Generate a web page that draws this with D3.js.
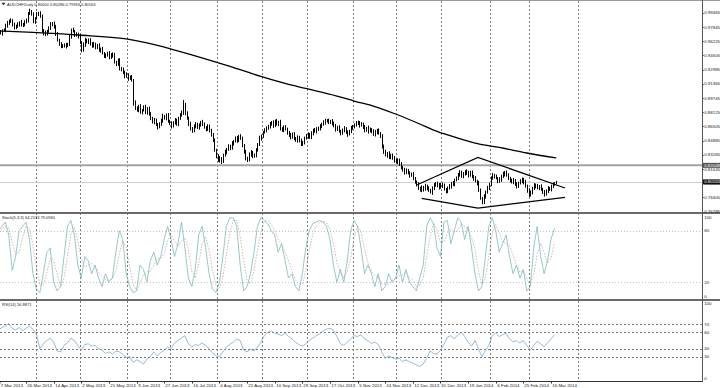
<!DOCTYPE html>
<html>
<head>
<meta charset="utf-8">
<script src="https://cdn.jsdelivr.net/npm/d3@7"></script>
<style>
  body { margin: 0; background: #fff; }
  svg text { font-family: "Liberation Sans", Arial, sans-serif; }
</style>
</head>
<body>
<script>
// AUDCHF daily, 7 Mar 2013 .. 19 Mar 2014 (MT4 style)
//##############################################

var firstOpen = 0.9738;
var closes = [
  0.9726,0.9715,0.9749,0.9749,0.9795,0.9840,0.9852,0.9863,0.9806,0.9783,0.9795,0.9818,0.9840,0.9806,0.9818,0.9840,0.9863,0.9943,0.9966,0.9932,
  0.9852,0.9886,0.9932,0.9943,0.9909,0.9749,0.9704,0.9715,0.9738,0.9772,0.9818,0.9829,0.9783,0.9715,0.9635,0.9590,0.9567,0.9578,0.9567,0.9578,
  0.9590,0.9681,0.9749,0.9738,0.9692,0.9704,0.9681,0.9612,0.9521,0.9590,0.9635,0.9612,0.9635,0.9601,0.9567,0.9590,0.9555,0.9578,0.9521,0.9532,
  0.9487,0.9453,0.9464,0.9487,0.9441,0.9475,0.9464,0.9384,0.9361,0.9407,0.9316,0.9293,0.9270,0.9224,0.9247,0.9202,0.9213,0.9179,0.8916,0.8859,
  0.8836,0.8882,0.8814,0.8836,0.8871,0.8814,0.8859,0.8791,0.8745,0.8700,0.8722,0.8677,0.8643,0.8677,0.8722,0.8768,0.8745,0.8779,0.8711,0.8688,
  0.8654,0.8700,0.8722,0.8677,0.8745,0.8779,0.8814,0.8905,0.8802,0.8745,0.8677,0.8631,0.8597,0.8654,0.8677,0.8643,0.8665,0.8700,0.8677,0.8643,
  0.8620,0.8654,0.8597,0.8563,0.8494,0.8380,0.8312,0.8266,0.8289,0.8255,0.8323,0.8357,0.8392,0.8426,0.8403,0.8460,0.8483,0.8517,0.8494,0.8540,
  0.8517,0.8437,0.8357,0.8289,0.8266,0.8334,0.8357,0.8312,0.8323,0.8380,0.8449,0.8517,0.8540,0.8585,0.8608,0.8631,0.8654,0.8677,0.8700,0.8665,
  0.8711,0.8677,0.8700,0.8631,0.8608,0.8643,0.8620,0.8585,0.8551,0.8528,0.8563,0.8517,0.8494,0.8528,0.8483,0.8449,0.8471,0.8517,0.8540,0.8563,
  0.8528,0.8574,0.8608,0.8597,0.8631,0.8620,0.8654,0.8677,0.8700,0.8711,0.8722,0.8700,0.8711,0.8688,0.8654,0.8620,0.8643,0.8597,0.8574,0.8608,
  0.8631,0.8585,0.8563,0.8597,0.8631,0.8654,0.8665,0.8688,0.8700,0.8665,0.8677,0.8643,0.8608,0.8631,0.8597,0.8620,0.8597,0.8563,0.8585,0.8608,
  0.8574,0.8540,0.8426,0.8357,0.8323,0.8346,0.8300,0.8323,0.8289,0.8266,0.8243,0.8266,0.8220,0.8186,0.8152,0.8129,0.8152,0.8118,0.8095,0.8106,
  0.8061,0.8015,0.7992,0.7947,0.7924,0.7958,0.7935,0.7970,0.7947,0.7924,0.7901,0.7947,0.7981,0.8004,0.7981,0.7958,0.7992,0.7970,0.7935,0.7913,
  0.7947,0.7970,0.8004,0.7992,0.8038,0.8061,0.8106,0.8129,0.8083,0.8106,0.8140,0.8118,0.8095,0.8129,0.8083,0.8061,0.8026,0.8004,0.7924,0.7832,
  0.7787,0.7855,0.7901,0.7947,0.7992,0.8061,0.8095,0.8083,0.8061,0.8026,0.8049,0.8083,0.8106,0.8129,0.8095,0.8061,0.8038,0.8015,0.8038,0.7992,
  0.7970,0.8004,0.8026,0.8049,0.8015,0.7970,0.7924,0.7867,0.7901,0.7947,0.7981,0.7970,0.7947,0.7970,0.7935,0.7901,0.7878,0.7913,0.7947,0.7935,
  0.7970,0.7992,0.8000,0.80163
];
// wick lengths above / below the body, in pips
var wickUp = [
  14,22,9,18,25,12,16,20,11,27,15,19,8,24,13,21,17,10,26,12,
  18,9,23,14,20,16,11,28,13,19,22,10,17,25,12,15,21,9,18,24,
  13,20,16,27,11,19,14,22,10,18,25,13,17,21,9,23,15,12,20,16,
  26,11,18,14,22,10,19,24,13,17,21,12,28,15,20,9,16,23,11,30,
  18,14,22,12,19,25,10,17,21,13,24,16,11,20,15,27,12,18,22,14,
  19,10,23,16,13,21,17,45,12,20,15,26,11,18,22,14,19,13,24,16,
  10,21,17,25,12,18,14,20,23,11,16,27,13,19,15,22,10,18,24,12,
  20,16,11,25,14,19,22,13,17,21,10,26,15,12,20,18,14,23,11,19,
  16,22,13,25,10,18,21,15,12,24,17,20,11,19,14,27,13,16,22,18,
  12,20,15,23,10,17,21,14,19,26,11,16,13,22,18,24,12,20,15,17,
  21,10,19,14,25,12,18,23,16,11,20,15,22,13,27,17,10,19,24,14,
  18,12,21,16,25,11,20,14,17,23,13,19,15,22,10,26,18,12,20,16,
  24,11,17,21,14,19,13,25,15,20,12,18,22,10,16,23,14,19,27,11,
  17,21,13,24,15,18,12,20,16,22,10,19,25,14,17,12,21,15,23,18,
  11,20,16,24,13,19,22,14,17,10,21,15,26,12,18,20,13,16,23,11,
  19,14,22,17,12,25,15,20,18,13,21,16,24,11,19,14,22,17,20,12,
  15,18,13,12
];
var wickDn = [
  18,11,24,15,20,13,27,16,10,22,19,14,25,12,17,21,11,23,16,13,
  20,26,12,18,15,22,10,19,24,14,17,21,13,28,11,16,20,18,12,23,
  15,19,25,11,17,14,22,16,20,13,27,10,18,24,15,12,21,19,14,26,
  11,17,22,13,20,16,25,12,18,15,23,10,19,21,14,27,16,12,24,17,
  13,20,15,22,11,18,26,14,19,12,21,16,23,10,17,25,13,20,15,18,
  22,11,24,14,19,16,12,27,20,13,18,23,15,10,21,17,26,12,19,14,
  22,16,11,25,18,13,20,15,24,30,17,12,21,16,19,14,23,11,26,18,
  15,20,13,22,17,10,24,19,14,21,12,18,25,16,11,20,15,23,13,27,
  17,12,19,22,14,18,10,25,16,21,13,20,15,24,11,19,17,22,12,26,
  14,18,21,13,23,16,11,20,15,25,12,19,17,22,10,24,18,14,21,13,
  20,16,27,11,19,15,22,13,18,24,12,17,21,14,25,10,20,16,23,19,
  13,18,22,15,11,26,17,20,14,24,12,19,16,21,13,23,18,10,25,15,
  20,14,22,17,12,19,24,13,21,16,11,27,18,15,20,23,14,17,12,22,
  19,13,25,16,21,10,18,24,15,20,12,17,23,14,19,26,11,22,16,13,
  21,18,24,12,17,20,15,23,10,19,14,25,16,22,13,18,21,11,20,15,
  24,17,12,19,22,14,26,16,13,21,18,23,11,20,15,17,24,12,19,14,
  21,16,13,4
];

// Moving average (200), read at these bars
var smaBars   = [0, 20, 46, 74, 86, 100, 126, 140, 152, 166, 178, 196, 206, 218, 230, 244, 252, 262, 278, 290, 306, 323];
var smaValues = [0.9738,0.9721,0.9692,0.9647,0.9601,0.9532,0.9384,0.9298,0.9219,0.9139,0.9082,0.8996,0.8939,0.8876,0.8791,0.8677,0.8608,0.8540,0.8449,0.8409,0.8346,0.8289];

// drawn trend lines [bar, price]
var upperLine = [[242.2, 0.7981], [277.7, 0.8295], [328.1, 0.7947]];
var lowerLine = [[245.1, 0.7829], [277.7, 0.7718], [328.1, 0.7840]];
var levelLine = 0.82048;
var bidPrice = 0.80163;

// oscillators, one value every 2 bars
var oscStep = 2;
var stochK = [80,85,90,75,34,50,80,85,90,70,30,12,8,30,55,60,20,10,15,50,85,92,75,40,25,50,45,30,40,25,15,30,20,25,55,80,70,30,15,8,
  10,40,35,20,45,55,40,50,70,85,70,50,65,90,60,25,15,35,75,85,60,30,12,8,20,50,85,95,95,85,40,10,15,30,55,85,95,92,88,80,
  75,55,65,45,25,30,15,10,30,60,80,88,90,92,90,85,70,40,20,35,20,45,80,92,85,60,30,40,30,15,30,10,15,30,20,25,40,20,35,20,
  15,10,25,40,85,95,88,60,50,90,92,65,80,95,90,70,85,60,30,10,15,50,85,95,80,55,65,75,50,30,40,25,35,10,15,60,85,50,30,45,70,83];
var stochD = [78,82,85,83,66,53,55,72,85,82,63,37,17,17,31,48,45,30,15,25,50,76,84,69,47,38,40,42,38,32,27,23,22,25,33,53,68,60,38,18,
  11,19,28,32,33,40,47,48,53,68,75,68,62,68,72,58,33,25,42,65,73,58,34,17,13,26,52,77,92,92,73,45,22,18,33,57,78,91,92,87,
  81,70,65,55,45,33,23,18,18,33,57,76,86,90,91,89,82,65,43,32,25,33,48,72,86,79,58,43,33,28,25,18,18,18,22,25,28,28,32,25,
  23,15,17,25,50,73,89,81,66,67,77,82,79,80,88,85,82,72,58,33,18,25,50,77,87,77,67,65,63,52,40,32,33,23,20,28,53,65,55,42,48,66];
var rsiVals = [63,66,68,71,65,63,66,62,65,68,64,58,40,46,50,53,48,37,36,44,47,53,50,44,38,45,46,43,44,40,38,34,36,33,37,36,33,29,30,23,
  26,24,21,27,30,36,31,35,38,42,40,47,50,53,56,46,42,45,44,47,44,40,35,31,30,36,42,45,48,52,50,38,36,39,37,42,48,56,60,62,
  59,58,56,59,55,52,48,45,43,46,50,53,56,58,62,64,65,63,55,46,44,48,52,56,55,57,52,50,46,48,45,36,28,31,29,27,28,24,26,24,
  22,20,18,21,28,37,34,33,38,45,54,56,52,57,60,55,48,43,50,40,30,38,44,56,59,55,57,59,52,48,50,47,50,44,38,44,49,46,42,47,52,57];

// axis labels
var priceTicks = [0.99465,0.97845,0.96225,0.94605,0.92985,0.91365,0.89745,0.88125,0.86505,0.84885,0.83265,0.81645,0.80025,0.78405,0.76785];
var stochTicks = [100, 80, 20, 0];
var rsiTicks = [100, 70, 60, 40, 30, 0];
var stochLevels = [80, 20];
var rsiLevels = [70, 60, 40, 30];
var dateLabels = ["7 Mar 2013","26 Mar 2013","14 Apr 2013","2 May 2013","21 May 2013","9 Jun 2013","27 Jun 2013","16 Jul 2013",
  "4 Aug 2013","22 Aug 2013","10 Sep 2013","29 Sep 2013","17 Oct 2013","5 Nov 2013","24 Nov 2013","12 Dec 2013","31 Dec 2013",
  "19 Jan 2014","6 Feb 2014","25 Feb 2014","16 Mar 2014"];
var dateStep = 16;
var monthStartBars = [22, 48, 75, 100, 127, 153, 179, 206, 231, 257, 285, 308, 336];

var title = "AUDCHF,Daily  0.80000 0.80286 0.79963 0.80163";
var stochTitle = "Stoch(5,3,3) 64.2133 79.0960";
var rsiTitle = "RSI(14) 56.8871";

// Layout
//##############################################
var W = 720, H = 388, plotRight = 702;
var mainTop = 1, mainBottom = 212.5;
var stTop = 214, stBottom = 299.5;
var rsTop = 301, rsBottom = 381;

var x = d3.scaleLinear().domain([0, 320]).range([-1.6, 551]);
var yP = d3.scaleLinear().domain([0.99465, 0.76785]).range([12.7, 211.5]);
var yS = d3.scaleLinear().domain([0, 100]).range([299.5, 213.5]);
var yR = d3.scaleLinear().domain([0, 100]).range([381, 300]);

var svg = d3.select("body").append("svg")
  .attr("width", W)
  .attr("height", H);

svg.append("rect").attr("width", W).attr("height", H).attr("fill", "#fff");

var defs = svg.append("defs");
function clip(id, y0, y1) {
  defs.append("clipPath").attr("id", id).append("rect")
    .attr("x", 0).attr("y", y0).attr("width", plotRight).attr("height", y1 - y0);
}
clip("cMain", mainTop, mainBottom);
clip("cSt", stTop, stBottom);
clip("cRs", rsTop, rsBottom);

// month separators through all panels
svg.append("g").selectAll("line")
  .data(monthStartBars)
  .enter().append("line")
  .attr("x1", function(d) { return Math.round(x(d - 0.5)) + 0.5; })
  .attr("x2", function(d) { return Math.round(x(d - 0.5)) + 0.5; })
  .attr("y1", 1).attr("y2", rsBottom)
  .attr("stroke", "#7a7a7a")
  .attr("stroke-width", 1)
  .attr("stroke-dasharray", "2,2");

// Main panel
//##############################################
var gMain = svg.append("g").attr("clip-path", "url(#cMain)");

gMain.append("line")
  .attr("x1", 0).attr("x2", plotRight)
  .attr("y1", yP(levelLine)).attr("y2", yP(levelLine))
  .attr("stroke", "#a4a4a4").attr("stroke-width", 2);

gMain.append("line")
  .attr("x1", 0).attr("x2", plotRight)
  .attr("y1", Math.round(yP(bidPrice)) + 0.5).attr("y2", Math.round(yP(bidPrice)) + 0.5)
  .attr("stroke", "#cfcfcf").attr("stroke-width", 1);

var bars = closes.map(function(c, i) {
  var o = i === 0 ? firstOpen : closes[i - 1];
  return {
    i: i,
    h: Math.max(o, c) + wickUp[i] / 10000,
    l: Math.min(o, c) - wickDn[i] / 10000
  };
});

gMain.append("g").selectAll("line")
  .data(bars)
  .enter().append("line")
  .attr("x1", function(d) { return Math.round(x(d.i)) + 0.5; })
  .attr("x2", function(d) { return Math.round(x(d.i)) + 0.5; })
  .attr("y1", function(d) { return yP(d.h); })
  .attr("y2", function(d) { return yP(d.l) + 0.5; })
  .attr("stroke", "#000")
  .attr("stroke-width", 1);

var smaLine = d3.line()
  .x(function(d, i) { return x(smaBars[i]); })
  .y(function(d) { return yP(d); })
  .curve(d3.curveMonotoneX);

gMain.append("path")
  .datum(smaValues)
  .attr("d", smaLine)
  .attr("fill", "none")
  .attr("stroke", "#000")
  .attr("stroke-width", 1.3);

var tl = d3.line()
  .x(function(d) { return x(d[0]); })
  .y(function(d) { return yP(d[1]); });

[upperLine, lowerLine].forEach(function(pts) {
  gMain.append("path")
    .datum(pts)
    .attr("d", tl)
    .attr("fill", "none")
    .attr("stroke", "#000")
    .attr("stroke-width", 1.2);
});

// Stochastic
//##############################################
var gSt = svg.append("g").attr("clip-path", "url(#cSt)");

gSt.selectAll("line.lvl")
  .data(stochLevels)
  .enter().append("line")
  .attr("x1", 0).attr("x2", plotRight)
  .attr("y1", function(d) { return Math.round(yS(d)) + 0.5; })
  .attr("y2", function(d) { return Math.round(yS(d)) + 0.5; })
  .attr("stroke", "#c4c4c4")
  .attr("stroke-dasharray", "1,2");

var oscLine = function(ys) {
  return d3.line()
    .x(function(d, i) { return x(i * oscStep); })
    .y(function(d) { return ys(d); });
};

gSt.append("path")
  .datum(stochD)
  .attr("d", oscLine(yS))
  .attr("fill", "none")
  .attr("stroke", "#c9a2a2")
  .attr("stroke-width", 0.8)
  .attr("stroke-dasharray", "1.5,1.5");

gSt.append("path")
  .datum(stochK)
  .attr("d", oscLine(yS))
  .attr("fill", "none")
  .attr("stroke", "#7dbab7")
  .attr("stroke-width", 0.8);

// RSI
//##############################################
var gRs = svg.append("g").attr("clip-path", "url(#cRs)");

gRs.selectAll("line.lvl")
  .data(rsiLevels)
  .enter().append("line")
  .attr("x1", 0).attr("x2", plotRight)
  .attr("y1", function(d) { return Math.round(yR(d)) + 0.5; })
  .attr("y2", function(d) { return Math.round(yR(d)) + 0.5; })
  .attr("stroke", "#7a7a7a")
  .attr("stroke-dasharray", "2,2");

gRs.append("path")
  .datum(rsiVals)
  .attr("d", oscLine(yR))
  .attr("fill", "none")
  .attr("stroke", "#7eaac8")
  .attr("stroke-width", 0.8);

// Frames, separators
//##############################################
svg.append("line").attr("x1", 0).attr("x2", W).attr("y1", 0.5).attr("y2", 0.5)
  .attr("stroke", "#9a9a9a");
[213, 300].forEach(function(yy) {
  svg.append("rect").attr("x", 0).attr("y", yy - 1).attr("width", W).attr("height", 2)
    .attr("fill", "#6a6a6a");
});
svg.append("line").attr("x1", 0).attr("x2", plotRight + 0.5).attr("y1", rsBottom + 0.5).attr("y2", rsBottom + 0.5)
  .attr("stroke", "#333");
svg.append("line").attr("x1", plotRight + 0.5).attr("x2", plotRight + 0.5).attr("y1", 0).attr("y2", rsBottom + 1)
  .attr("stroke", "#555");

// Right axis labels
//##############################################
var fs = 4.4;
var lx = plotRight + 2.2;
var gAx = svg.append("g").attr("font-size", fs).attr("fill", "#222");

priceTicks.forEach(function(p) {
  var yy = yP(p);
  gAx.append("line").attr("x1", plotRight).attr("x2", plotRight + 1.8)
    .attr("y1", Math.round(yy) + 0.5).attr("y2", Math.round(yy) + 0.5).attr("stroke", "#555");
  gAx.append("text").attr("x", lx).attr("y", yy + 1.6).text(p.toFixed(5));
});

function priceBox(p, bg) {
  var yy = yP(p);
  gAx.append("rect").attr("x", plotRight + 1).attr("y", yy - 2.5).attr("width", W - plotRight - 1).attr("height", 5)
    .attr("fill", bg);
  gAx.append("text").attr("x", lx).attr("y", yy + 1.6).attr("fill", "#fff").text(p.toFixed(5));
}
priceBox(levelLine, "#555");
priceBox(bidPrice, "#111");

stochTicks.forEach(function(v) {
  var yy = Math.min(Math.max(yS(v), stTop + 3), stBottom - 3);
  gAx.append("text").attr("x", lx).attr("y", yy + 1.6).text(v);
});
rsiTicks.forEach(function(v) {
  var yy = Math.min(Math.max(yR(v), rsTop + 2.5), rsBottom - 3);
  gAx.append("text").attr("x", lx).attr("y", yy + 1.6).text(v);
});

// Bottom date labels
//##############################################
var gDate = svg.append("g").attr("font-size", 4.4).attr("fill", "#222");
dateLabels.forEach(function(lbl, k) {
  var xx = Math.max(0, Math.round(x(k * dateStep)) + 0.5);
  gDate.append("line").attr("x1", xx).attr("x2", xx).attr("y1", rsBottom).attr("y2", rsBottom + 2.5)
    .attr("stroke", "#333");
  gDate.append("text").attr("x", xx + 0.8).attr("y", 386.5).text(lbl);
});

// Titles
//##############################################
svg.append("path").attr("d", "M1.5,2.8L5.5,2.8L3.5,5.3Z").attr("fill", "#222");
svg.append("text").attr("x", 7).attr("y", 5.6).attr("font-size", 4).attr("fill", "#222").text(title);
svg.append("text").attr("x", 2).attr("y", 219).attr("font-size", 4).attr("fill", "#222").text(stochTitle);
svg.append("text").attr("x", 2).attr("y", 305.5).attr("font-size", 4).attr("fill", "#222").text(rsiTitle);
</script>
</body>
</html>
